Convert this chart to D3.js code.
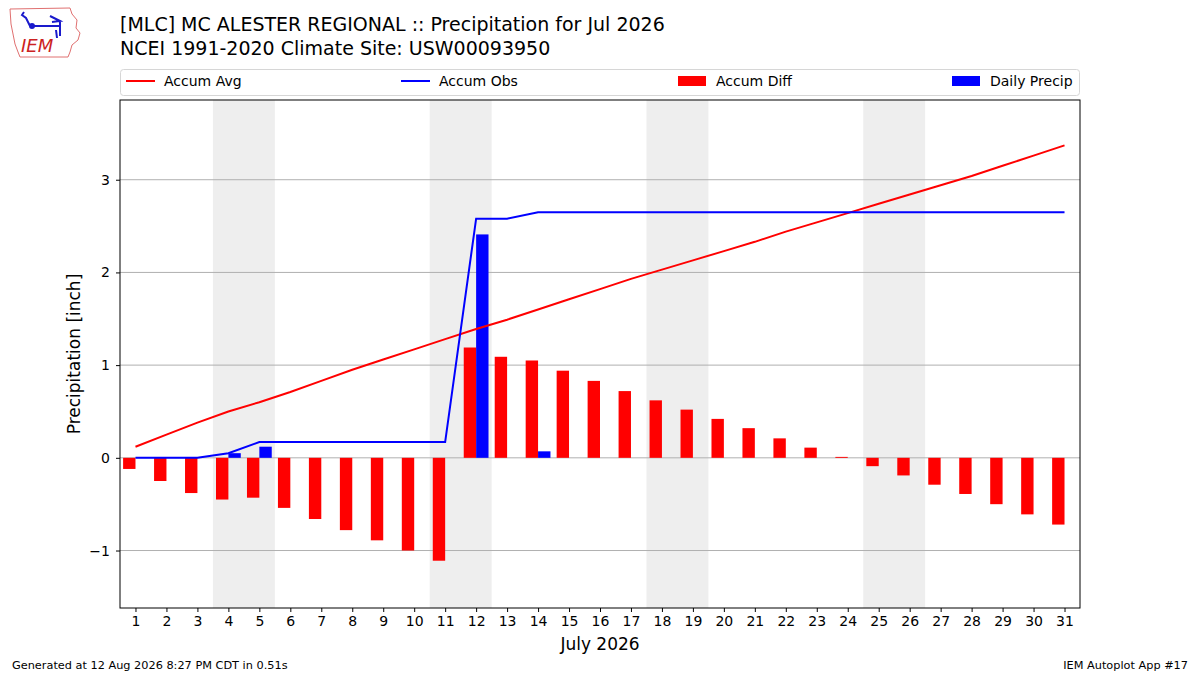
<!DOCTYPE html>
<html lang="en">
<head>
<meta charset="UTF-8"/>
<title>MLC Precipitation Jul 2026</title>
<script src="https://d3js.org/d3.v7.min.js"></script>
<style>
    body { margin: 0; background: #fff; }
    text { font-family: "DejaVu Sans", sans-serif; }
</style>
</head>
<body>
<div id="chart"></div>
<script>
    // Data
    const days = d3.range(1, 32);
    const accumAvg = [0.12, 0.25, 0.38, 0.50, 0.60, 0.71, 0.83, 0.95, 1.06, 1.17, 1.28,
                      1.39, 1.49, 1.60, 1.71, 1.82, 1.93, 2.03, 2.13, 2.23, 2.33, 2.44,
                      2.54, 2.64, 2.74, 2.84, 2.94, 3.04, 3.15, 3.26, 3.37];
    const accumObs = [0, 0, 0, 0.05, 0.17, 0.17, 0.17, 0.17, 0.17, 0.17, 0.17,
                      2.58, 2.58, 2.65, 2.65, 2.65, 2.65, 2.65, 2.65, 2.65, 2.65, 2.65,
                      2.65, 2.65, 2.65, 2.65, 2.65, 2.65, 2.65, 2.65, 2.65];
    const accumDiff = [-0.12, -0.25, -0.38, -0.45, -0.43, -0.54, -0.66, -0.78, -0.89, -1.00, -1.11,
                       1.19, 1.09, 1.05, 0.94, 0.83, 0.72, 0.62, 0.52, 0.42, 0.32, 0.21,
                       0.11, 0.01, -0.09, -0.19, -0.29, -0.39, -0.50, -0.61, -0.72];
    const dailyPrecip = [0, 0, 0, 0.05, 0.12, 0, 0, 0, 0, 0, 0,
                         2.41, 0, 0.07, 0, 0, 0, 0, 0, 0, 0, 0,
                         0, 0, 0, 0, 0, 0, 0, 0, 0];
    const weekendStarts = [4, 11, 18, 25];   // Saturdays
    const yTicks = [-1, 0, 1, 2, 3];

    const W = 1200, H = 675;
    const margin = { top: 100, right: 120, bottom: 67, left: 120 };
    const innerW = W - margin.left - margin.right;
    const innerH = H - margin.top - margin.bottom;

    const svg = d3.select("#chart").append("svg")
        .attr("width", W).attr("height", H);

    const x = d3.scaleLinear().domain([0.5, 31.5]).range([0, innerW]);
    const y = d3.scaleLinear().domain([-1.62, 3.86]).range([innerH, 0]);

    const g = svg.append("g")
        .attr("transform", `translate(${margin.left},${margin.top})`);

    // Weekend shading
    g.selectAll(".wk").data(weekendStarts).enter().append("rect")
        .attr("x", d => x(d - 0.5))
        .attr("width", d => x(d + 1.5) - x(d - 0.5))
        .attr("y", 0).attr("height", innerH)
        .attr("fill", "#eeeeee");

    // Grid
    g.selectAll(".grid").data(yTicks).enter().append("line")
        .attr("x1", 0).attr("x2", innerW)
        .attr("y1", d => y(d)).attr("y2", d => y(d))
        .attr("stroke", "#b0b0b0").attr("stroke-width", 1);

    // Accum diff bars (left of day)
    g.selectAll(".diff").data(days).enter().append("rect")
        .attr("x", (d) => x(d - 0.4))
        .attr("width", x(0.4) - x(0))
        .attr("y", (d, i) => y(Math.max(0, accumDiff[i])))
        .attr("height", (d, i) => Math.abs(y(accumDiff[i]) - y(0)))
        .attr("fill", "#ff0000");

    // Daily precip bars (right of day)
    g.selectAll(".daily").data(days).enter().append("rect")
        .attr("x", d => x(d))
        .attr("width", x(0.4) - x(0))
        .attr("y", (d, i) => y(dailyPrecip[i]))
        .attr("height", (d, i) => y(0) - y(dailyPrecip[i]))
        .attr("fill", "#0000ff");

    // Lines
    const line = arr => d3.line().x((d) => x(d)).y((d, i) => y(arr[i]))(days);
    g.append("path").attr("d", line(accumAvg))
        .attr("fill", "none").attr("stroke", "#ff0000").attr("stroke-width", 2);
    g.append("path").attr("d", line(accumObs))
        .attr("fill", "none").attr("stroke", "#0000ff").attr("stroke-width", 2);

    // Frame
    g.append("rect").attr("width", innerW).attr("height", innerH)
        .attr("fill", "none").attr("stroke", "#000").attr("stroke-width", 1);

    // Axes
    const xAxis = g.append("g").attr("transform", `translate(0,${innerH})`)
        .call(d3.axisBottom(x).tickValues(days).tickSize(4).tickPadding(4));
    const yAxis = g.append("g")
        .call(d3.axisLeft(y).tickValues(yTicks).tickSize(4).tickPadding(6)
            .tickFormat(d => d < 0 ? "\u2212" + Math.abs(d) : d));
    [xAxis, yAxis].forEach(a => {
        a.select(".domain").remove();
        a.selectAll("text").attr("font-size", "14px").attr("fill", "#000")
            .attr("font-family", "DejaVu Sans, sans-serif");
        a.selectAll("line").attr("stroke", "#000");
    });

    // Axis labels
    svg.append("text")
        .attr("x", margin.left + innerW / 2).attr("y", 650)
        .attr("text-anchor", "middle").attr("font-size", "17px")
        .text("July 2026");
    svg.append("text")
        .attr("transform", `translate(80,${margin.top + innerH / 2}) rotate(-90)`)
        .attr("text-anchor", "middle").attr("font-size", "17px")
        .text("Precipitation [inch]");

    // Titles
    svg.append("text").attr("x", 120).attr("y", 31)
        .attr("font-size", "19px")
        .text("[MLC] MC ALESTER REGIONAL :: Precipitation for Jul 2026");
    svg.append("text").attr("x", 120).attr("y", 55)
        .attr("font-size", "19px")
        .text("NCEI 1991-2020 Climate Site: USW00093950");

    // Legend
    const leg = svg.append("g");
    leg.append("rect").attr("x", 120.5).attr("y", 69.5).attr("width", 959).attr("height", 26)
        .attr("rx", 3).attr("fill", "#fff").attr("stroke", "#d6d6d6");
    const legendItems = [
        { label: "Accum Avg", type: "line", color: "#ff0000", x: 126 },
        { label: "Accum Obs", type: "line", color: "#0000ff", x: 401 },
        { label: "Accum Diff", type: "patch", color: "#ff0000", x: 678 },
        { label: "Daily Precip", type: "patch", color: "#0000ff", x: 952 }
    ];
    legendItems.forEach(it => {
        if (it.type === "line") {
            leg.append("line").attr("x1", it.x).attr("x2", it.x + 29)
                .attr("y1", 81).attr("y2", 81)
                .attr("stroke", it.color).attr("stroke-width", 2);
        } else {
            leg.append("rect").attr("x", it.x).attr("y", 76).attr("width", 28).attr("height", 10)
                .attr("fill", it.color);
        }
        leg.append("text").attr("x", it.x + 38).attr("y", 86)
            .attr("font-size", "14px").text(it.label);
    });

    // Footer
    svg.append("text").attr("x", 12).attr("y", 669).attr("font-size", "11.3px")
        .text("Generated at 12 Aug 2026 8:27 PM CDT in 0.51s");
    svg.append("text").attr("x", 1188).attr("y", 669).attr("font-size", "11.3px")
        .attr("text-anchor", "end").text("IEM Autoplot App #17");

    // Logo (rough Iowa outline, station glyph, IEM text)
    const logo = svg.append("g").attr("transform", "translate(8,6)");
    logo.append("path")
        .attr("d", "M2,3 L62,2 L64,8 L69,14 L68,22 L72,27 L70,34 L64,39 L62,46 L60,51 L12,51 L10,46 L7,38 L5,28 L3,18 Z")
        .attr("fill", "#fff").attr("stroke", "#e07070").attr("stroke-width", 1);
    logo.append("path").attr("d", "M16,6 L14,9 L18,12 L20,16 L22,20 M24,20 L52,20 M42,10 L52,15 L44,16 M52,15 L52,30 M48,24 L49,32")
        .attr("fill", "none").attr("stroke", "#1a1acc").attr("stroke-width", 2);
    logo.append("circle").attr("cx", 24).attr("cy", 20).attr("r", 3).attr("fill", "#1a1acc");
    logo.append("text").attr("x", 13).attr("y", 46)
        .attr("font-family", "Liberation Serif, serif").attr("font-style", "italic")
        .attr("font-size", "18px").attr("fill", "#cc2222").text("IEM");
</script>
</body>
</html>
